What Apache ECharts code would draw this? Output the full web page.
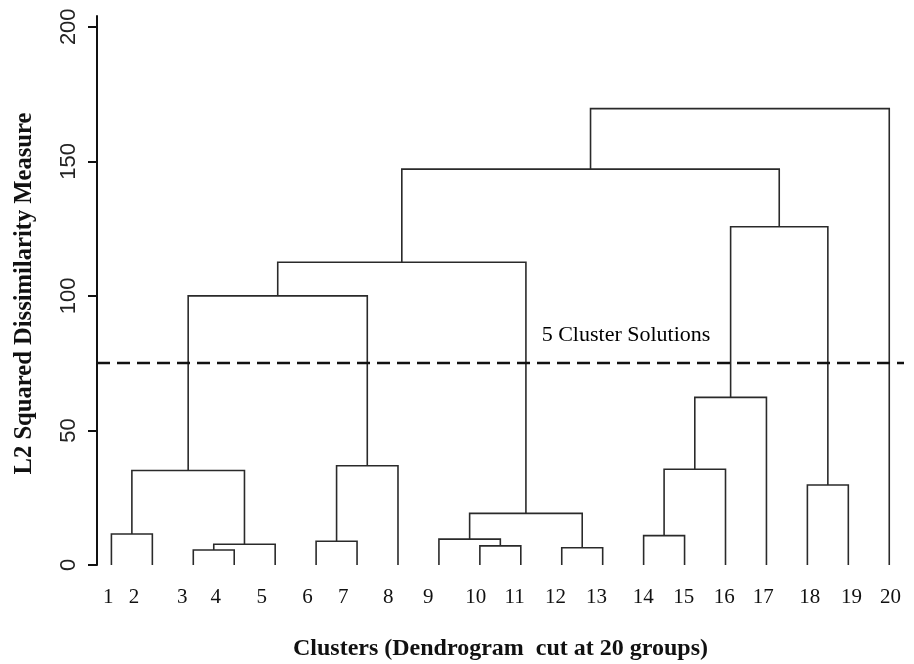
<!DOCTYPE html>
<html>
<head>
<meta charset="utf-8">
<script src="https://cdn.jsdelivr.net/npm/echarts@6/dist/echarts.min.js"></script>
<style>
  html, body { margin: 0; padding: 0; background: #fff; }
  #chart { width: 914px; height: 664px; }
</style>
</head>
<body>
<div id="chart"></div>
<script>
// leaves in plotting order
const leafNames = ['1', '2', '3', '4', '5', '6', '7', '8', '9', '10',
  '11', '12', '13', '14', '15', '16', '17', '18', '19', '20'];

// hclust-style merge table: negative = leaf, positive = earlier merge (1-based)
const merges = [
  [-3, -4], [-12, -13], [-10, -11], [1, -5], [-6, -7],
  [-9, 3], [-14, -15], [-1, -2], [6, 2], [-18, -19],
  [8, 4], [7, -16], [5, -8], [12, -17], [11, 13],
  [15, 9], [14, 10], [16, 17], [18, -20]
];
const heights = [
  5.6, 6.4, 7.1, 7.7, 8.8,
  9.6, 10.9, 11.5, 19.2, 29.7,
  35.1, 35.6, 36.9, 62.3, 100,
  112.5, 125.7, 147.1, 169.6
];
const cutHeight = 75;
const cutLabel = '5 Cluster Solutions';
const yTicks = [0, 50, 100, 150, 200];

// layout only: where each leaf number is printed under the tree
const labelPos = [0.92, 1.55, 2.73, 3.55, 4.67, 5.79, 6.66, 7.76, 8.74, 9.9,
  10.85, 11.85, 12.85, 13.99, 14.98, 15.97, 16.92, 18.06, 19.08, 20.03];
const notePos = [13.57, 85.5];

const leafIndex = name => leafNames.indexOf(name) + 1;
const mergeX = [];
const segments = [];
const child = c => c < 0 ? [leafIndex(leafNames[-c - 1]), 0] : [mergeX[c - 1], heights[c - 1]];
merges.forEach((m, i) => {
  const [xa, ha] = child(m[0]);
  const [xb, hb] = child(m[1]);
  mergeX[i] = (xa + xb) / 2;
  segments.push({ coords: [[xa, ha], [xa, heights[i]], [xb, heights[i]], [xb, hb]] });
});

const serif = '"Liberation Serif", "Times New Roman", serif';
const sans = '"Liberation Sans", Arial, sans-serif';

const chart = echarts.init(document.getElementById('chart'));
chart.setOption({
  animation: false,
  grid: { left: 97, right: 10, top: 16, bottom: 99, outerBoundsMode: 'none' },
  xAxis: {
    type: 'value',
    min: 0.648,
    max: 20.36,
    axisLine: { show: false },
    axisTick: { show: false },
    splitLine: { show: false },
    axisLabel: {
      customValues: labelPos,
      formatter: v => leafNames[labelPos.indexOf(v)] || '',
      fontFamily: serif,
      fontSize: 21,
      color: '#111',
      margin: 22
    },
    name: 'Clusters (Dendrogram  cut at 20 groups)',
    nameLocation: 'middle',
    nameGap: 72,
    nameTextStyle: { fontFamily: serif, fontWeight: 'bold', fontSize: 24, color: '#111' }
  },
  yAxis: {
    type: 'value',
    min: 0,
    max: 204,
    axisLine: { show: true, lineStyle: { color: '#111', width: 2 } },
    axisTick: { show: true, customValues: yTicks, length: 9, lineStyle: { color: '#111', width: 2 } },
    splitLine: { show: false },
    axisLabel: {
      customValues: yTicks,
      rotate: 90,
      fontFamily: sans,
      fontSize: 22,
      color: '#222',
      margin: 17
    },
    name: 'L2 Squared Dissimilarity Measure',
    nameLocation: 'middle',
    nameGap: 60,
    nameRotate: 90,
    nameTextStyle: { fontFamily: serif, fontWeight: 'bold', fontSize: 24.6, color: '#111', padding: [0, 6, 0, 0] }
  },
  series: [{
    type: 'lines',
    coordinateSystem: 'cartesian2d',
    polyline: true,
    silent: true,
    lineStyle: { color: '#2a2a2a', width: 1.6, opacity: 1 },
    data: segments,
    markLine: {
      silent: true,
      symbol: 'none',
      label: { show: false },
      lineStyle: { color: '#111', width: 2.3, type: [13, 7] },
      data: [{ yAxis: cutHeight }]
    }
  }, {
    type: 'scatter',
    silent: true,
    symbolSize: 0,
    label: {
      show: true,
      position: 'inside',
      formatter: cutLabel,
      fontFamily: serif,
      fontSize: 22,
      color: '#000',
      opacity: 1
    },
    data: [notePos]
  }]
});
</script>
</body>
</html>
